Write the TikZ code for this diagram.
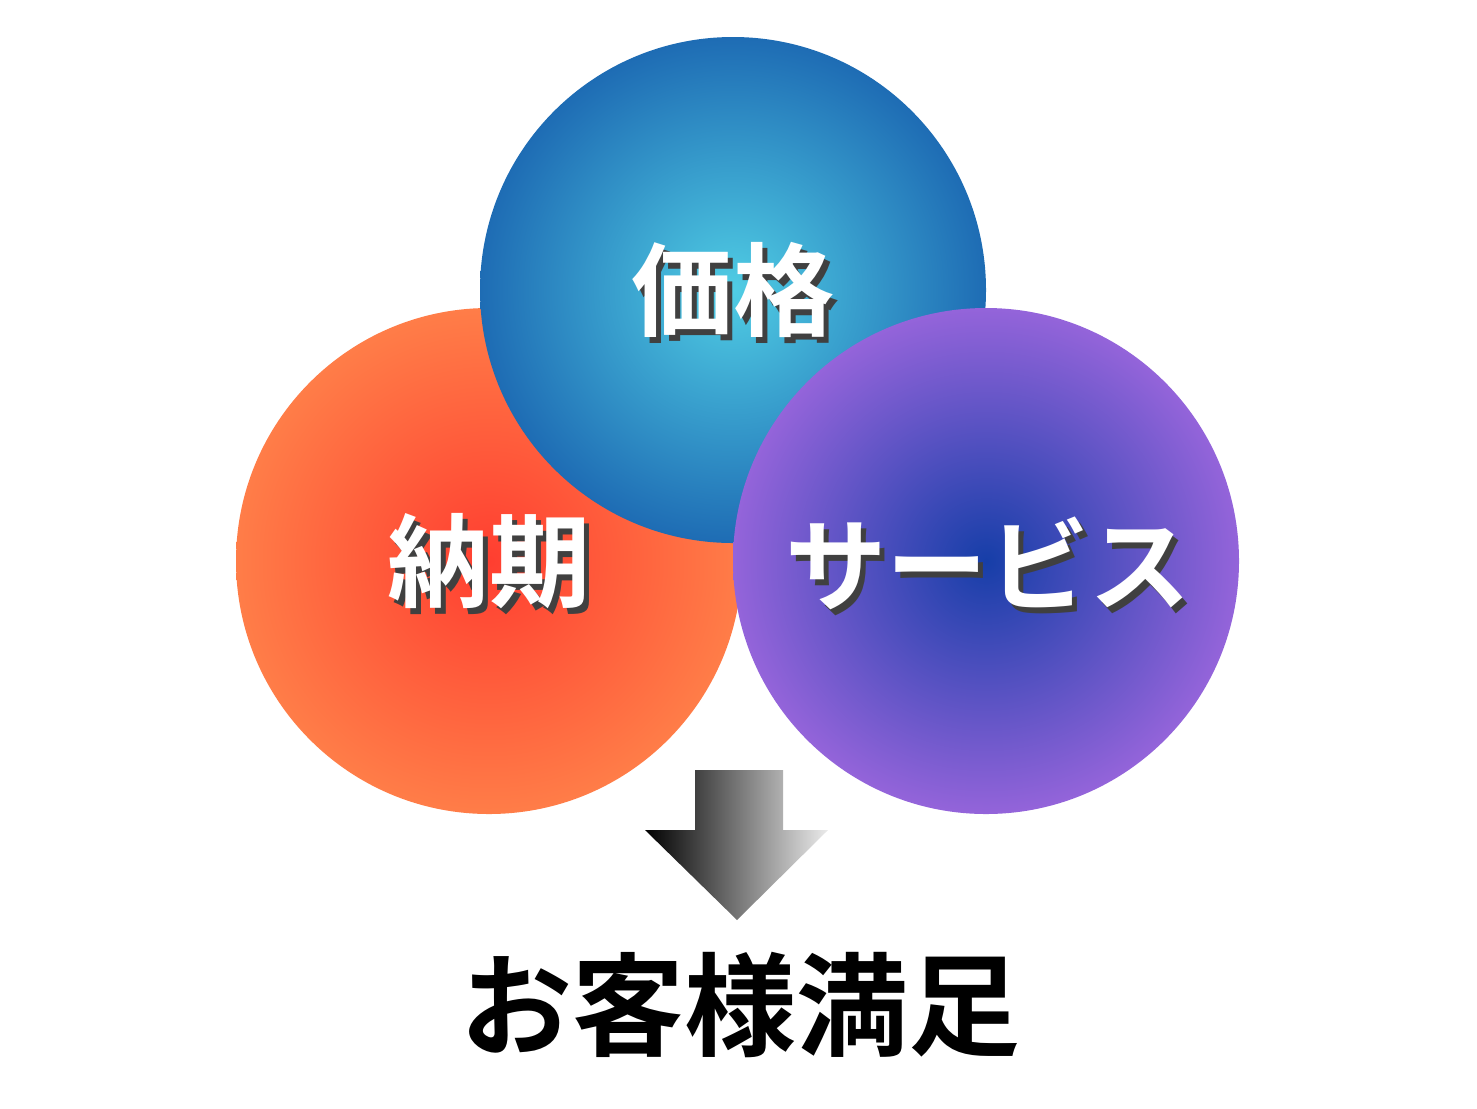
\documentclass[tikz,border=0pt]{standalone}
\usepackage{fontspec}
\newfontfamily\cjk{Noto Sans CJK JP}[BoldFont={Noto Sans CJK JP Bold}]
\begin{document}
\begin{tikzpicture}[x=0.75pt,y=-0.75pt,
  lbl/.style={text=white,font=\cjk\bfseries\fontsize{76}{84}\selectfont,inner sep=0},
  shd/.style={text=black!75,font=\cjk\bfseries\fontsize{76}{84}\selectfont,inner sep=0}]
\useasboundingbox (0,0) rectangle (1477,1108);
\shade[inner color={rgb,255:red,255;green,62;blue,48},outer color={rgb,255:red,255;green,125;blue,72}] (489,561) circle (253);
\shade[inner color={rgb,255:red,80;green,205;blue,228},outer color={rgb,255:red,30;green,108;blue,180}] (733,290) circle (253);
\shade[inner color={rgb,255:red,22;green,62;blue,168},outer color={rgb,255:red,148;green,100;blue,218}] (986,561) circle (253);
\foreach \n/\t/\x/\y in {a/価格/733/290, b/納期/489/561, c/サービス/988/563}{
  \node[shd] at (\x+5,\y+6) {\t};
  \node[lbl] (\n) at (\x,\y) {\t};
}
\shade[left color=black,right color=black!8] (695,770) -- (783,770) -- (783,830) -- (828,830) -- (737,920) -- (645,830) -- (695,830) -- cycle;
\node[inner sep=0,font=\cjk\bfseries\fontsize{84}{94}\selectfont] (goal) at (740,1005) {お客様満足};
\end{tikzpicture}
\end{document}
